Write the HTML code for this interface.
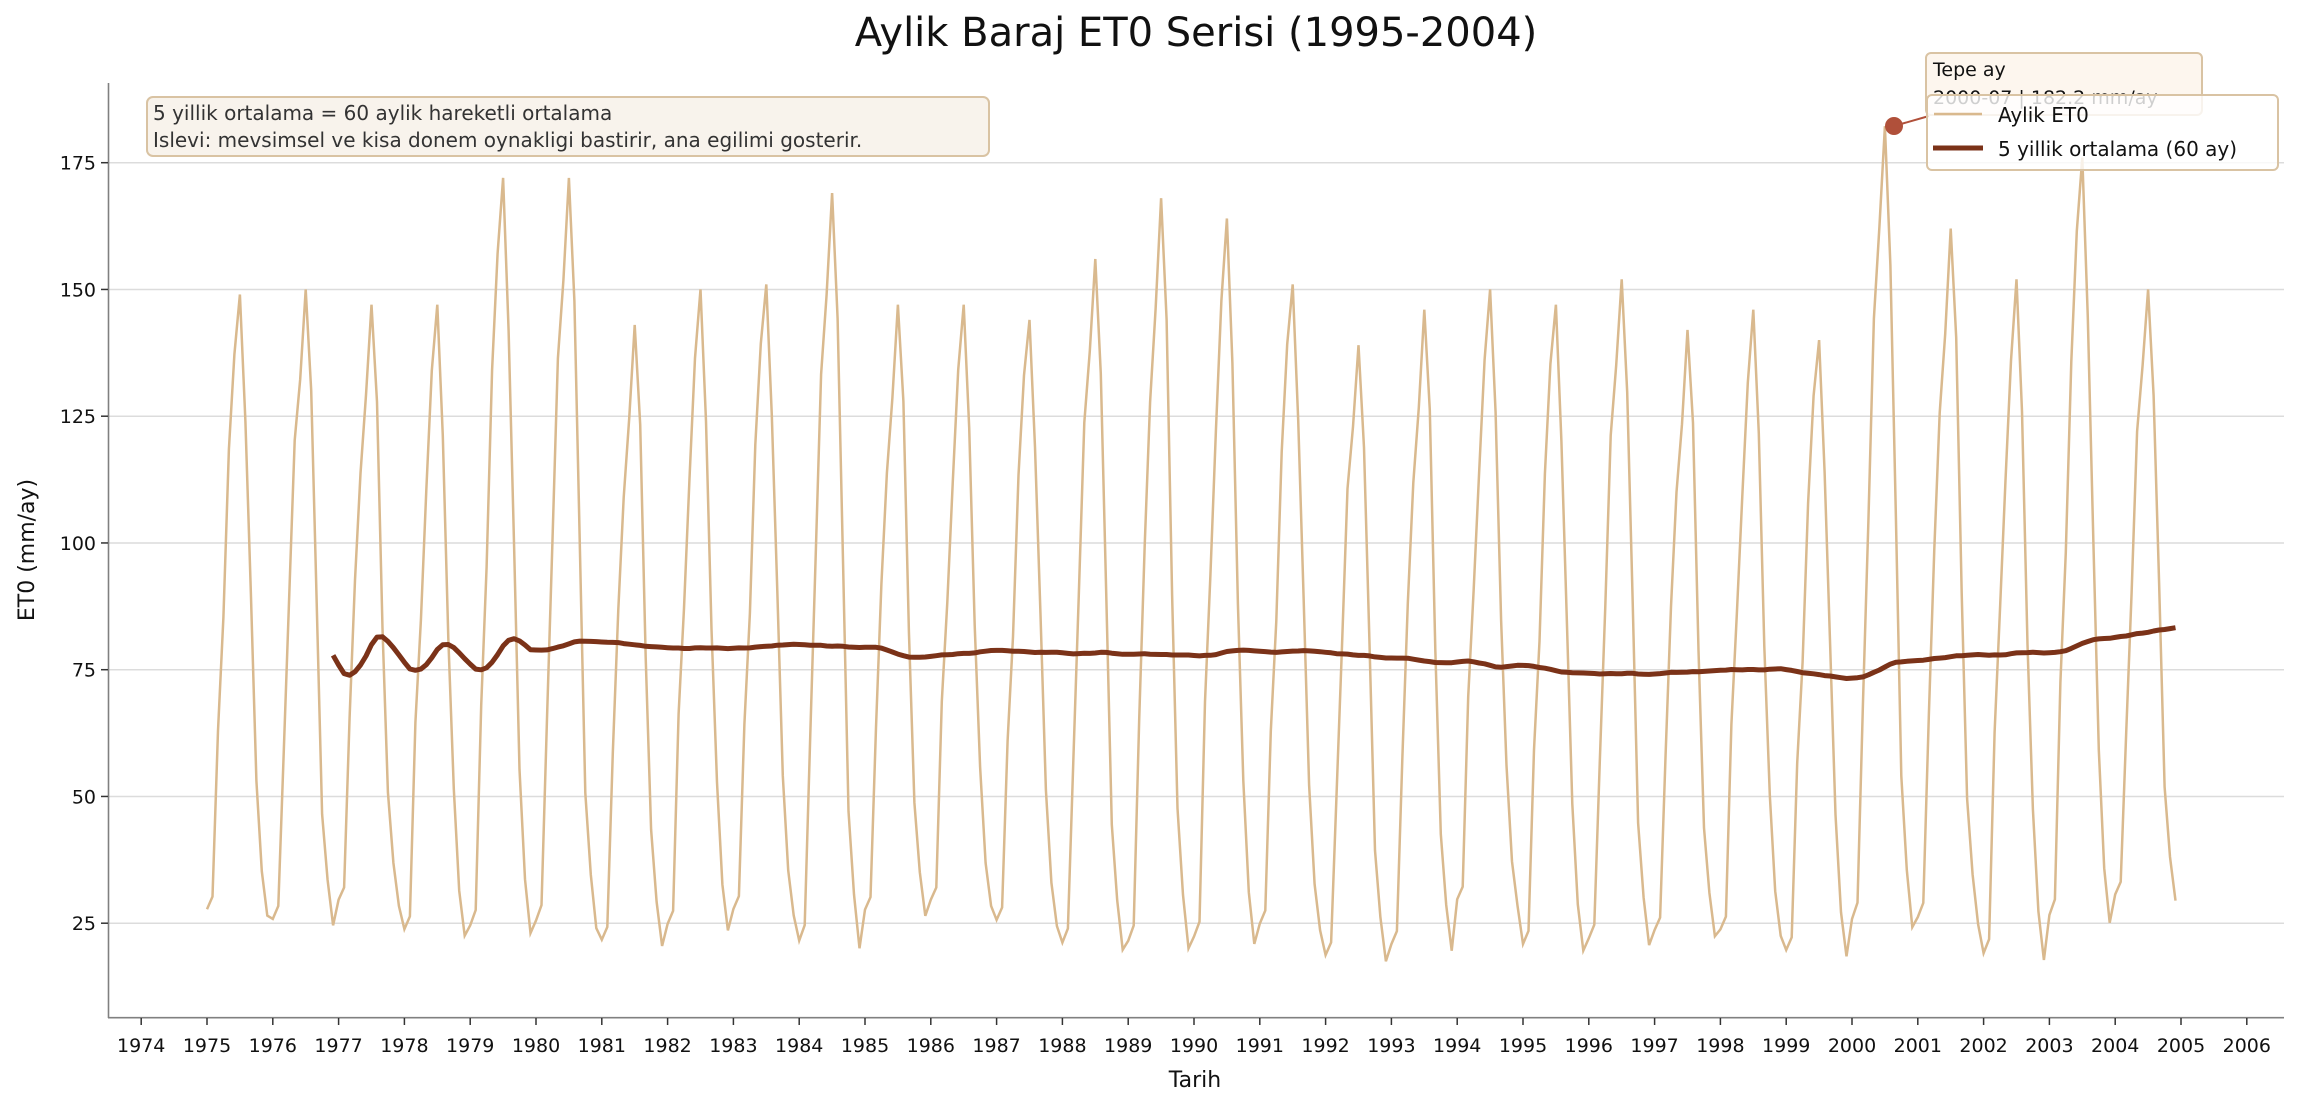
<!DOCTYPE html>
<html><head><meta charset="utf-8">
<style>
html,body{margin:0;padding:0;background:#fff;}
svg{display:block;font-family:"DejaVu Sans","Liberation Sans",sans-serif;}
</style></head>
<body>
<svg id="s" width="2300" height="1107" viewBox="0 0 2300 1107" xmlns="http://www.w3.org/2000/svg">
<rect width="2300" height="1107" fill="#fff"/>
<text x="1196" y="46" font-size="40" text-anchor="middle" fill="#111">Aylik Baraj ET0 Serisi (1995-2004)</text>
<g id="grid"></g>
<g id="series"></g>
<line x1="108.5" y1="83" x2="108.5" y2="1018" stroke="#808080" stroke-width="1.6"/>
<line x1="108" y1="1017.7" x2="2284" y2="1017.7" stroke="#808080" stroke-width="1.6"/>
<g id="ticks" font-size="19" fill="#111"></g>
<text x="1195" y="1087" font-size="22" text-anchor="middle" fill="#111">Tarih</text>
<text transform="translate(34,550) rotate(-90)" font-size="22" text-anchor="middle" fill="#111">ET0 (mm/ay)</text>
<rect x="147" y="97" width="842" height="59" rx="6" fill="#f8f3ec" stroke="#d9c3a3" stroke-width="2"/>
<text x="153" y="120" font-size="20" fill="#333">5 yillik ortalama = 60 aylik hareketli ortalama</text>
<text x="153" y="147" font-size="20" fill="#333">Islevi: mevsimsel ve kisa donem oynakligi bastirir, ana egilimi gosterir.</text>
<line x1="1894" y1="126" x2="1929" y2="116" stroke="#b0503a" stroke-width="2"/>
<circle cx="1894" cy="126" r="9" fill="#b0503a"/>
<rect x="1926" y="53" width="276" height="62" rx="5" fill="#fdf6ee" stroke="#d9c3a3" stroke-width="2"/>
<text x="1933" y="76" font-size="19" fill="#111">Tepe ay</text>
<text x="1933" y="104" font-size="19" fill="#111">2000-07 | 182.2 mm/ay</text>
<rect x="1927" y="95" width="351" height="75" rx="5" fill="#fff" fill-opacity="0.8" stroke="#d9c3a3" stroke-width="2"/>
<line x1="1934" y1="114" x2="1982" y2="114" stroke="#d9b98e" stroke-width="2.5"/>
<text x="1998" y="122" font-size="20" fill="#111">Aylik ET0</text>
<line x1="1933" y1="148" x2="1983" y2="148" stroke="#7b3218" stroke-width="5"/>
<text x="1998" y="156" font-size="20" fill="#111">5 yillik ortalama (60 ay)</text>
</svg>
<script>
(function(){
var NS="http://www.w3.org/2000/svg";
function X(t){return 207+(t-1975)*65.8;}
function Y(v){return 162.7+(175-v)*5.07;}
function el(p,n,a){var e=document.createElementNS(NS,n);for(var k in a)e.setAttribute(k,a[k]);p.appendChild(e);return e;}
var g=document.getElementById('grid'),tk=document.getElementById('ticks'),se=document.getElementById('series');
[25,50,75,100,125,150,175].forEach(function(v){
 el(g,'line',{x1:109,x2:2284,y1:Y(v),y2:Y(v),stroke:'#dcdcdc','stroke-width':1.5});
 el(tk,'line',{x1:101,x2:108,y1:Y(v),y2:Y(v),stroke:'#333','stroke-width':1.5});
 var t=el(tk,'text',{x:96,y:Y(v)+7,'text-anchor':'end'});t.textContent=v;
});
for(var yr=1974;yr<=2006;yr++){
 el(tk,'line',{x1:X(yr),x2:X(yr),y1:1018,y2:1025,stroke:'#333','stroke-width':1.5});
 var t=el(tk,'text',{x:X(yr),y:1052,'text-anchor':'middle'});t.textContent=yr;
}
var peaks=[149,150,147,147,172,172,143,150,151,169,147,147,144,156,168,164,151,139,146,150,147,152,142,146,140,182.2,162,152,176,150];
var mins=[24,22,26,20,20,21,18,21,24,17,24,26,22,17,17,18,21,15,17,26,17,18,20,20,16,21,22,15,22,27];
var shape=[0.03,0.05,0.32,0.52,0.74,0.88,1,0.82,0.5,0.22,0.09,0.02];
var d=[];
for(var y=0;y<30;y++)for(var m=0;m<12;m++){
 var mn=mins[y],pk=peaks[y];
 var w=Math.sin((y*12+m)*1.7)*4;
 var v=mn+(pk-mn)*shape[m]+(shape[m]>0.1&&shape[m]<0.99?w:0);
 if(m==6)v=pk;
 d.push(v);
}
var p='';
d.forEach(function(v,i){p+=(i?'L':'M')+X(1975+i/12).toFixed(1)+','+Y(v).toFixed(1);});
el(se,'path',{d:p,fill:'none',stroke:'#d9b98e','stroke-width':2.5});
var q='';
for(var i=23;i<360;i++){
 var n=Math.min(i+1,60),s=0;for(var j=i-n+1;j<=i;j++)s+=d[j];
 var a=s/n;
 q+=(i>23?'L':'M')+X(1975+i/12).toFixed(1)+','+Y(a).toFixed(1);
}
el(se,'path',{d:q,fill:'none',stroke:'#7b3218','stroke-width':5,'stroke-linejoin':'round'});
})();
</script>
</body></html>
